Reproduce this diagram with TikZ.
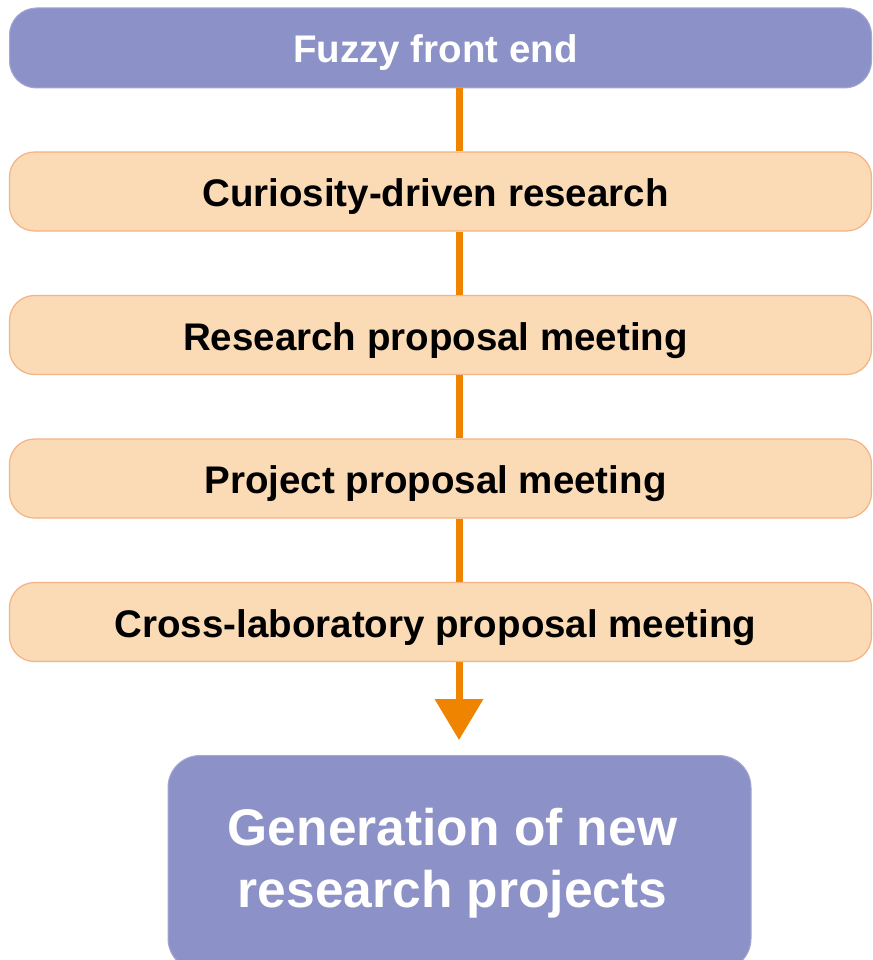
\documentclass[tikz,border=0pt]{standalone}
\usepackage{fontspec}
\setmainfont{Liberation Sans}
\usetikzlibrary{arrows.meta}
\definecolor{purp}{HTML}{8C92C7}
\definecolor{peach}{HTML}{FADBB6}
\definecolor{peachedge}{HTML}{F5B283}
\definecolor{arr}{HTML}{EF8400}
\newcommand{\myLpad}{\hspace*{10pt}}
\newcommand{\myRpad}{\hspace*{14pt}}
\tikzset{
  headbox/.style={draw=purp!80!white, line width=1pt, fill=purp, rounded corners=27pt,
    minimum width=862pt, minimum height=80pt, inner sep=0pt, text=white,
    text height=30pt, text depth=0pt,
    font=\fontsize{38.5}{46}\selectfont\bfseries},
  stagebox/.style={draw=peachedge, line width=1.2pt, fill=peach, rounded corners=25pt,
    minimum width=862pt, minimum height=79pt, inner sep=0pt, text=black,
    text height=30pt, text depth=0pt,
    font=\fontsize{38.5}{46}\selectfont\bfseries},
  resultbox/.style={draw=purp!80!white, line width=1pt, fill=purp, rounded corners=32pt,
    minimum width=583pt, minimum height=215pt, inner sep=0pt, text=white, align=center,
    font=\fontsize{51.5}{62}\selectfont\bfseries},
  flow/.style={draw=arr, line width=7pt},
  flowarrow/.style={flow, -{Triangle[width=47pt,length=41pt]}, shorten >=15pt},
}
\begin{document}
\begin{tikzpicture}[x=1pt, y=-1pt]
  \useasboundingbox (0,0) rectangle (872,960);
  \fill[white] (0,0) rectangle (872,960);
  \coordinate (ax) at (459,0);
  % boxes
  \node[headbox]  (top) at (440.5,48)  {Fuzzy front end\myLpad};
  \node[stagebox] (s1)  at (440.5,191.5) {Curiosity-driven research\myLpad};
  \node[stagebox] (s2)  at (440.5,335) {Research proposal meeting\myLpad};
  \node[stagebox] (s3)  at (440.5,478.5) {Project proposal meeting\myLpad};
  \node[stagebox] (s4)  at (440.5,622) {Cross-laboratory proposal meeting\myLpad};
  \node[resultbox] (res) at (459.5,863) {Generation of new\myRpad\\research projects\myRpad};
  % connectors
  \draw[flow] (top.south -| ax) -- (s1.north -| ax);
  \draw[flow] (s1.south -| ax) -- (s2.north -| ax);
  \draw[flow] (s2.south -| ax) -- (s3.north -| ax);
  \draw[flow] (s3.south -| ax) -- (s4.north -| ax);
  \draw[flowarrow] (s4.south -| ax) -- (res.north -| ax);
\end{tikzpicture}
\end{document}
